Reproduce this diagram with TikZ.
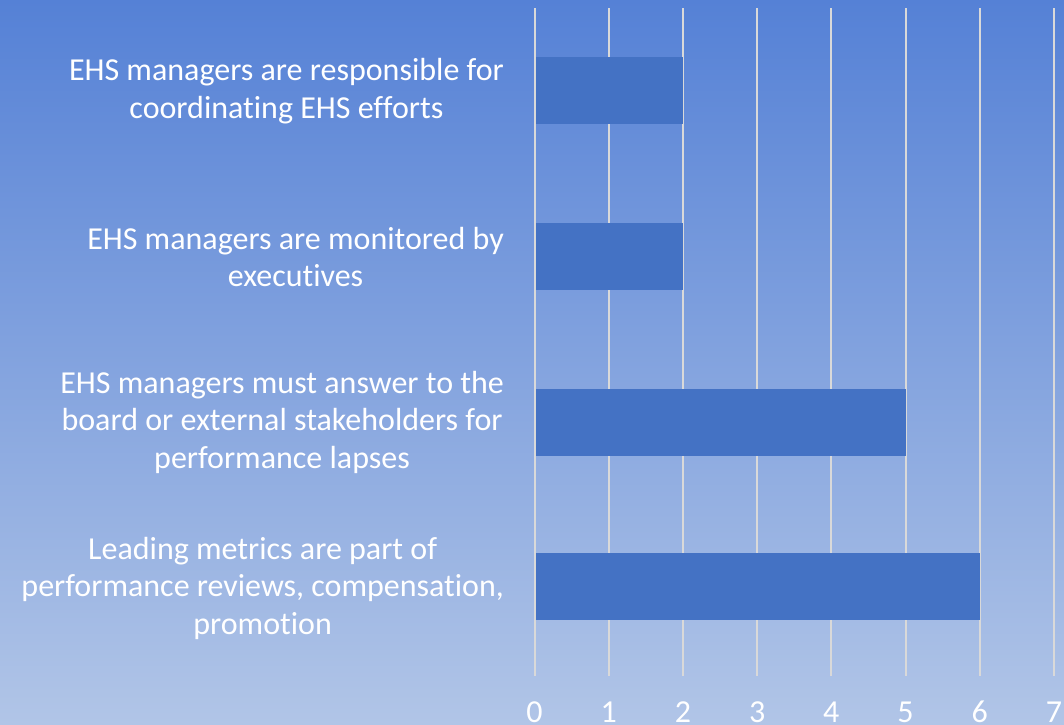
\documentclass[tikz,border=0pt]{standalone}
\usepackage{fontspec}
\setmainfont{Carlito}[RawFeature=-liga]
\definecolor{bgtop}{HTML}{5581D6}
\definecolor{bgbot}{HTML}{B1C5E7}
\definecolor{barblue}{HTML}{4472C4}
\definecolor{gridgray}{HTML}{D9D9D9}
\tikzset{
  grid line/.style={draw=gridgray, line width=2pt},
  barbox/.style={fill=barblue, draw=none},
  catlabel/.style={text=white, align=center, anchor=east, inner sep=0pt, font=\fontsize{32}{37.5}\selectfont},
  ticklabel/.style={text=white, anchor=base, inner sep=0pt, font=\fontsize{32}{36}\selectfont}
}
\begin{document}
\begin{tikzpicture}[x=1pt,y=-1pt]
\useasboundingbox (0,0) rectangle (1064,724);
\shade[top color=bgtop, bottom color=bgbot] (0,0) rectangle (1064,724);
% gridlines
\foreach \i in {0,...,7} {
  \draw[grid line] ({534.5+74.2*\i},8) -- ({534.5+74.2*\i},675.5);
}
% bars
\path[barbox] (535.5,57) rectangle (683.4,124);
\path[barbox] (535.5,223) rectangle (683.4,290);
\path[barbox] (535.5,389) rectangle (905.5,455.5);
\path[barbox] (535.5,553) rectangle (979.7,620);
% category labels
\node[catlabel] (l1) at (504,91) {EHS managers are responsible for\\coordinating EHS efforts};
\node[catlabel] (l2) at (504,257) {EHS managers are monitored by\\executives};
\node[catlabel] (l3) at (504,422) {EHS managers must answer to the\\board or external stakeholders for\\performance lapses};
\node[catlabel] (l4) at (504,588) {Leading metrics are part of\\performance reviews, compensation,\\promotion};
% axis labels
\foreach \i in {0,...,7} {
  \node[ticklabel] (t\i) at ({534.5+74.2*\i},722) {\i};
}
\end{tikzpicture}
\end{document}
